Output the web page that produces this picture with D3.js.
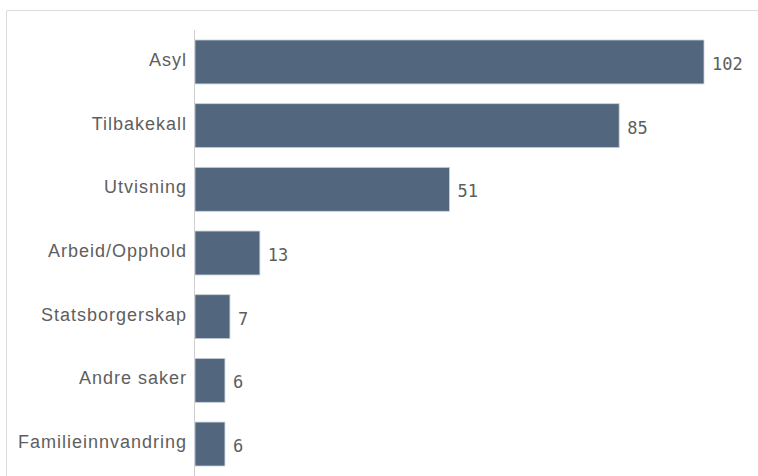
<!DOCTYPE html>
<html><head><meta charset="utf-8">
<script src="https://cdn.jsdelivr.net/npm/d3@7"></script>
<style>body{margin:0;background:#fff;}svg{display:block;}</style>
</head><body>
<svg id="c" width="758" height="476"></svg>
<script>
const categories = ["Asyl","Tilbakekall","Utvisning","Arbeid/Opphold","Statsborgerskap","Andre saker","Familieinnvandring"];
const values = [102,85,51,13,7,6,6];

const svg = d3.select("#c");
// frame
svg.append("path").attr("d","M6.5,476 V10.5 H758").attr("fill","none").attr("stroke","#dcdcdc").attr("stroke-width",1);

const x = d3.scaleLinear().domain([0,102]).range([195,704]);
const y = d3.scaleBand().domain(categories).range([30,476]).paddingInner(0.31).paddingOuter(0.157);

svg.append("line").attr("x1",194.5).attr("x2",194.5).attr("y1",30).attr("y2",476).attr("stroke","#cfcfcf");

const data = categories.map((c,i)=>({c, v: values[i]}));
svg.selectAll("rect.bar").data(data).join("rect").attr("class","bar")
  .attr("x",x(0)).attr("y",d=>y(d.c)).attr("width",d=>x(d.v)-x(0)).attr("height",y.bandwidth())
  .attr("fill","#52677e").attr("stroke","#c9d1da").attr("stroke-width",0.8);

svg.selectAll("text.lab").data(data).join("text").attr("class","lab")
  .attr("x",187).attr("y",d=>y(d.c)+y.bandwidth()/2+4)
  .attr("text-anchor","end").attr("font-family","'Liberation Sans',sans-serif")
  .attr("font-size",18).attr("letter-spacing",1).attr("fill","#5e5e5e").text(d=>d.c);

svg.selectAll("text.val").data(data).join("text").attr("class","val")
  .attr("x",d=>x(d.v)+8).attr("y",d=>y(d.c)+y.bandwidth()/2+8)
  .attr("font-family","'DejaVu Sans Mono',monospace").attr("font-size",17).attr("fill","#5e5e5e").text(d=>d.v);
</script>
</body></html>
